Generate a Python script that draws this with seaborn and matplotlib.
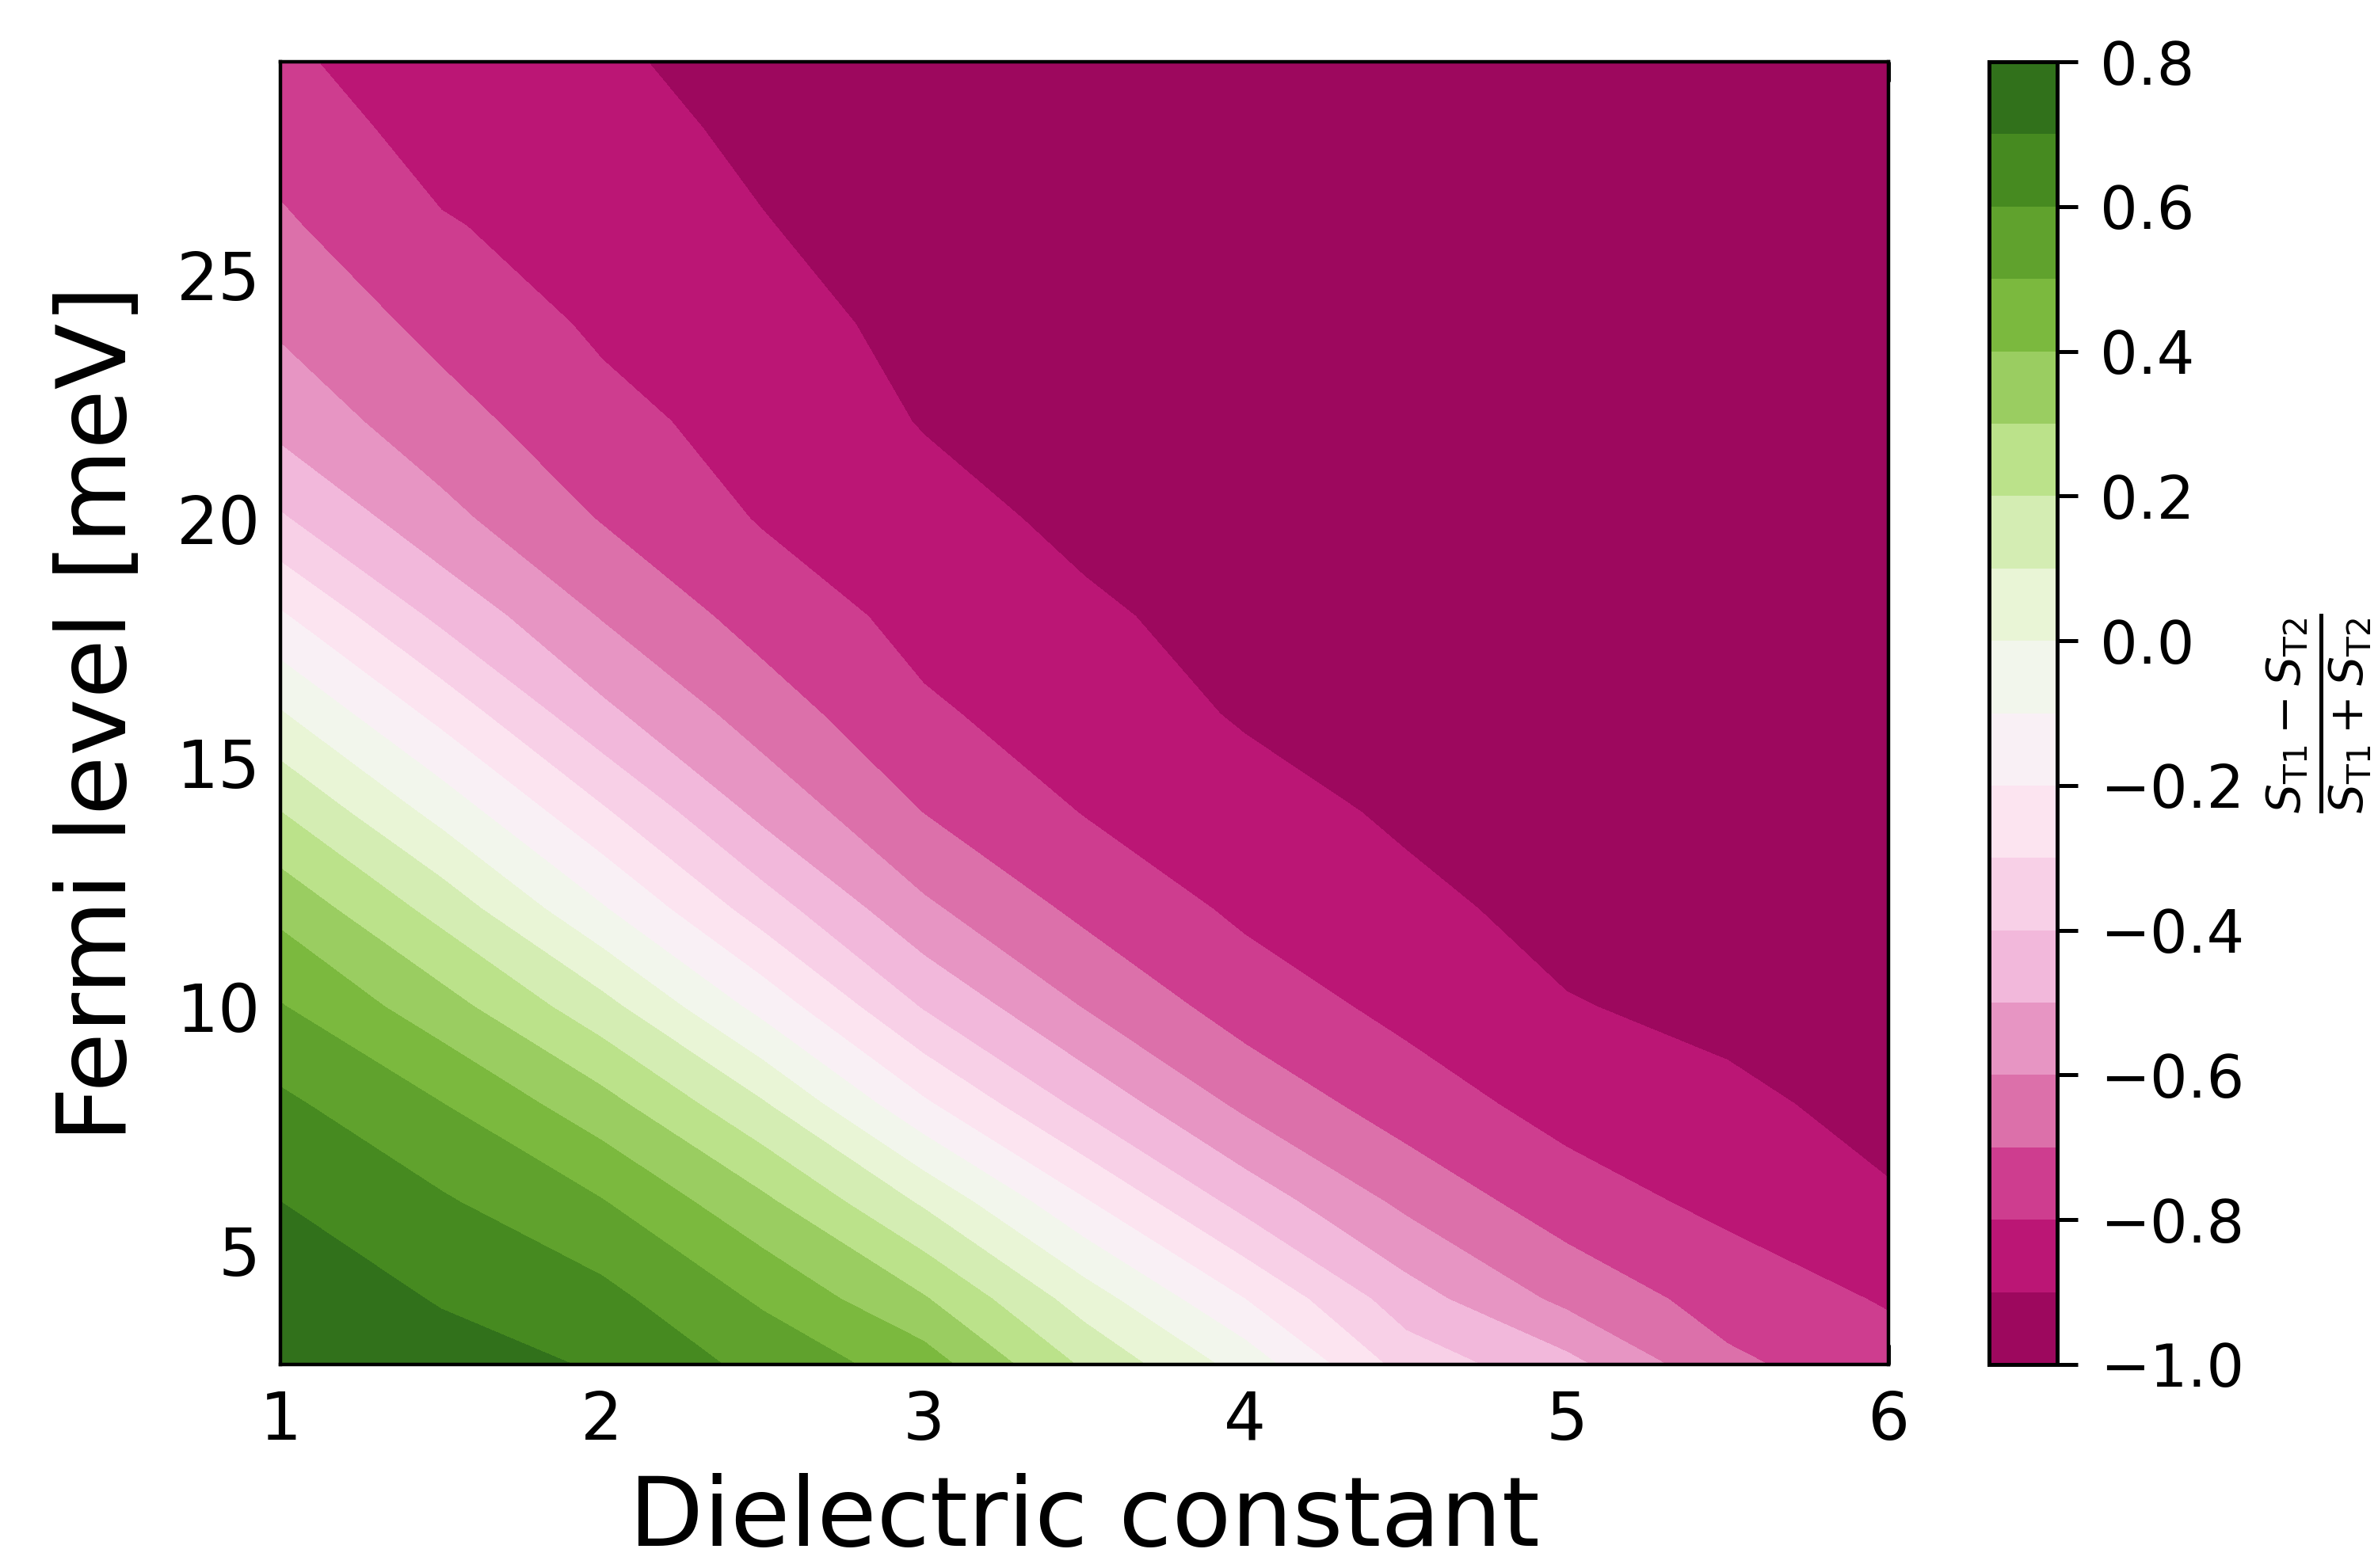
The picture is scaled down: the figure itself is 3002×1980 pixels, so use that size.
import numpy as np
import matplotlib
matplotlib.use("Agg")
import matplotlib.pyplot as plt
import seaborn as sns

# grid of the map
dielectric = [1.0, 1.5, 2.0, 2.5, 3.0, 3.5, 4.0, 4.5, 5.0, 5.5, 6.0]
fermi_level = [2.66, 4, 6, 8, 10, 12, 14, 16, 18, 20, 22, 24, 26, 28, 29.37]

# (S_T1 - S_T2) / (S_T1 + S_T2), one list per dielectric constant,
# ordered from the lowest Fermi level to the highest
eps_1_0 = [0.79, 0.775, 0.70, 0.62, 0.506, 0.372, 0.20, 0.008, -0.187, -0.389, -0.535, -0.616, -0.685, -0.743, -0.78]
eps_1_5 = [0.745, 0.692, 0.612, 0.503, 0.342, 0.164, -0.036, -0.232, -0.425, -0.572, -0.661, -0.731, -0.792, -0.84, -0.865]
eps_2_0 = [0.69, 0.63, 0.505, 0.337, 0.135, -0.09, -0.287, -0.477, -0.607, -0.706, -0.772, -0.816, -0.842, -0.866, -0.882]
eps_2_5 = [0.57, 0.485, 0.321, 0.11, -0.135, -0.35, -0.529, -0.65, -0.741, -0.808, -0.837, -0.866, -0.896, -0.92, -0.945]
eps_3_0 = [0.45, 0.31, 0.084, -0.184, -0.409, -0.582, -0.703, -0.786, -0.831, -0.868, -0.905, -0.925, -0.945, -0.96, -0.97]
eps_3_5 = [0.185, 0.053, -0.191, -0.428, -0.606, -0.725, -0.805, -0.846, -0.886, -0.92, -0.94, -0.955, -0.965, -0.975, -0.98]
eps_4_0 = [-0.04, -0.2, -0.439, -0.624, -0.748, -0.819, -0.862, -0.91, -0.93, -0.95, -0.965, -0.975, -0.982, -0.987, -0.99]
eps_4_5 = [-0.34, -0.455, -0.625, -0.753, -0.826, -0.877, -0.915, -0.94, -0.96, -0.972, -0.98, -0.986, -0.99, -0.993, -0.995]
eps_5_0 = [-0.47, -0.626, -0.756, -0.835, -0.895, -0.928, -0.95, -0.965, -0.977, -0.985, -0.99, -0.993, -0.995, -0.997, -0.998]
eps_5_5 = [-0.68, -0.743, -0.825, -0.882, -0.922, -0.945, -0.962, -0.975, -0.984, -0.99, -0.993, -0.995, -0.997, -0.998, -0.999]
eps_6_0 = [-0.76, -0.809, -0.892, -0.925, -0.945, -0.96, -0.972, -0.98, -0.986, -0.99, -0.993, -0.995, -0.997, -0.998, -0.999]

x_ticks = [1, 2, 3, 4, 5, 6]
y_ticks = [5, 10, 15, 20, 25]


def plot_map():
    sns.set_theme(style="ticks", rc={
        "axes.edgecolor": "black",
        "axes.linewidth": 1.6,
        "xtick.color": "black",
        "ytick.color": "black",
        "text.color": "black",
        "axes.labelcolor": "black",
    })
    plt.rcParams["font.family"] = ["DejaVu Sans"]
    plt.rcParams["mathtext.fontset"] = "dejavusans"

    z = np.array([eps_1_0, eps_1_5, eps_2_0, eps_2_5, eps_3_0, eps_3_5,
                  eps_4_0, eps_4_5, eps_5_0, eps_5_5, eps_6_0]).T
    levels = np.linspace(-1.0, 0.8, 19)

    fig = plt.figure(figsize=(15.01, 9.9), dpi=200)
    ax = fig.add_axes([0.1179, 0.1298, 0.6762, 0.8308])
    cax = fig.add_axes([0.8364, 0.1298, 0.0286, 0.8308])

    cs = ax.contourf(dielectric, fermi_level, z, levels=levels, cmap="PiYG")

    ax.set_xticks(x_ticks)
    ax.set_yticks(y_ticks)
    ax.tick_params(direction="in", top=True, right=True, length=9, width=1.8,
                   labelsize=30)
    ax.tick_params(axis="x", pad=11)
    ax.tick_params(axis="y", pad=9)
    ax.set_xlabel("Dielectric constant", fontsize=44, labelpad=9)
    ax.set_ylabel("Fermi level [meV]", fontsize=44, labelpad=14)

    cbar = fig.colorbar(cs, cax=cax, ticks=np.linspace(-1.0, 0.8, 10))
    cbar.outline.set_linewidth(1.8)
    cbar.ax.tick_params(labelsize=27, length=9.5, width=1.8, pad=10)
    cbar.set_label(r"$\frac{S_{\mathrm{T1}}-S_{\mathrm{T2}}}{S_{\mathrm{T1}}+S_{\mathrm{T2}}}$",
                   fontsize=30, labelpad=9)

    fig.savefig("out.png", dpi=200)


if __name__ == "__main__":
    plot_map()
